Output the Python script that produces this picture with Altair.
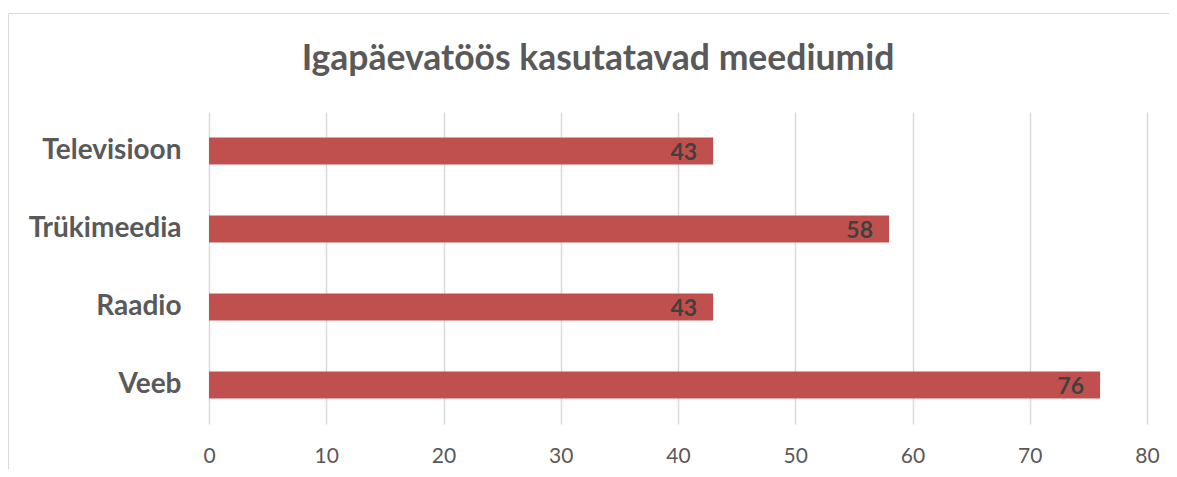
import altair as alt
import pandas as pd

categories = ["Televisioon", "Trükimeedia", "Raadio", "Veeb"]
values = [43, 58, 43, 76]
x_ticks = [0, 10, 20, 30, 40, 50, 60, 70, 80]
title_text = "Igapäevatöös kasutatavad meediumid"

df = pd.DataFrame({"cat": categories, "val": values})

FONT = "Lato"
GRAY = "#595959"

base = alt.Chart(df)

bars = base.mark_bar(color="#C0504D", size=27).encode(
    y=alt.Y("cat:N", sort=categories, title=None,
            axis=alt.Axis(labelFont=FONT, labelFontSize=28, labelFontWeight="bold",
                          labelColor=GRAY, labelPadding=28, ticks=False, domain=False,
                          grid=False)),
    x=alt.X("val:Q", title=None, scale=alt.Scale(domain=[0, 80], nice=False),
            axis=alt.Axis(values=x_ticks, labelFont=FONT, labelFontSize=21,
                          labelColor=GRAY, labelPadding=21, labelFlush=False,
                          ticks=False, domain=False,
                          grid=True, gridColor="#D9D9D9", gridWidth=1.5)),
)

labels = base.mark_text(align="right", baseline="middle", dx=-16, dy=2,
                        font=FONT, fontSize=23, fontWeight="bold", color="#404040").encode(
    y=alt.Y("cat:N", sort=categories),
    x=alt.X("val:Q"),
    text=alt.Text("val:Q"),
)

title = alt.Chart().mark_text(text=title_text, align="center", baseline="alphabetic",
                              font=FONT, fontSize=35.5, fontWeight="bold", color=GRAY).encode(
    x=alt.value(389), y=alt.value(-42))

border_left = alt.Chart().mark_rule(color="#D9D9D9", strokeWidth=1).encode(
    x=alt.value(-200.5), y=alt.value(-98.5), y2=alt.value(360))
border_top = alt.Chart().mark_rule(color="#D9D9D9", strokeWidth=1).encode(
    x=alt.value(-200.5), x2=alt.value(970), y=alt.value(-98.5))

chart = alt.layer(border_left, border_top, title, bars, labels).properties(
    width=938, height=312,
    autosize=alt.AutoSizeParams(type="none"),
    padding={"left": 201, "top": 104, "right": 22, "bottom": 45},
).configure_view(stroke=None)

chart.save("out.html", embed_options={"renderer": "svg", "actions": False})
